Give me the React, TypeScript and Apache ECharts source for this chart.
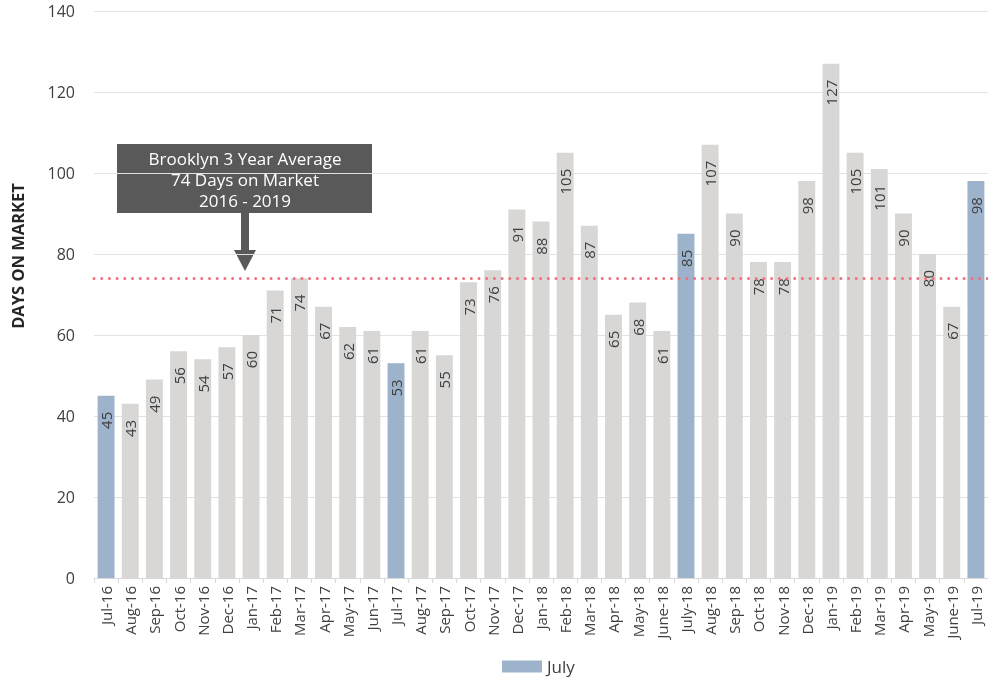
import React, { useEffect, useRef } from "react";
import * as echarts from "echarts";

const categories = [
  "Jul-16", "Aug-16", "Sep-16", "Oct-16", "Nov-16", "Dec-16", "Jan-17", "Feb-17", "Mar-17", "Apr-17",
  "May-17", "Jun-17", "Jul-17", "Aug-17", "Sep-17", "Oct-17", "Nov-17", "Dec-17", "Jan-18", "Feb-18",
  "Mar-18", "Apr-18", "May-18", "June-18", "July-18", "Aug-18", "Sep-18", "Oct-18", "Nov-18", "Dec-18",
  "Jan-19", "Feb-19", "Mar-19", "Apr-19", "May-19", "June-19", "Jul-19",
];
const daysOnMarket = [
  45, 43, 49, 56, 54, 57, 60, 71, 74, 67,
  62, 61, 53, 61, 55, 73, 76, 91, 88, 105,
  87, 65, 68, 61, 85, 107, 90, 78, 78, 98,
  127, 105, 101, 90, 80, 67, 98,
];
const averageDays = 74;
const annotationLines = ["Brooklyn 3 Year Average", "74 Days on Market", "2016 - 2019"];
const yTicks = { min: 0, max: 140, interval: 20 };

const FONT = "'Open Sans', Lato, sans-serif";
const BLUE = "#9cb3cb";
const GRAY = "#d8d7d6";
const TEXT = "#404040";

export default function App() {
  const ref = useRef<HTMLDivElement>(null);
  useEffect(() => {
    if (!ref.current) return;
    const chart = echarts.init(ref.current, null, { renderer: "svg" });
    const data = daysOnMarket.map((v, i) => ({
      value: v,
      itemStyle: { color: categories[i].startsWith("Jul") ? BLUE : GRAY },
    }));
    chart.setOption({
      animation: false,
      textStyle: { fontFamily: FONT },
      grid: { left: 94, right: -6, top: 11, bottom: 99, containLabel: false },
      legend: {
        data: ["July"],
        left: 497,
        top: 653,
        itemWidth: 40,
        itemHeight: 12,
        itemGap: 6,
        icon: "rect",
        textStyle: { fontSize: 17, color: TEXT, fontFamily: FONT },
      },
      xAxis: {
        type: "category",
        data: categories,
        axisLine: { lineStyle: { color: "#d9d9d9" } },
        axisTick: { show: true, length: 5, lineStyle: { color: "#d9d9d9" } },
        axisLabel: { rotate: 90, interval: 0, fontSize: 15, color: TEXT, margin: 8, fontFamily: FONT },
      },
      yAxis: {
        type: "value",
        min: yTicks.min,
        max: yTicks.max,
        interval: yTicks.interval,
        axisLine: { show: false },
        axisTick: { show: false },
        axisLabel: { fontSize: 16, color: TEXT, margin: 19, fontFamily: FONT },
        splitLine: { lineStyle: { color: "#e2e2e2" } },
      },
      series: [
        {
          name: "July",
          type: "bar",
          color: BLUE,
          data,
          barCategoryGap: "30%",
          label: {
            show: true,
            position: "insideTop",
            rotate: 90,
            align: "right",
            verticalAlign: "middle",
            distance: 16,
            fontSize: 15,
            color: TEXT,
            fontFamily: FONT,
          },
          markLine: {
            silent: true,
            symbol: "none",
            label: { show: false },
            lineStyle: { color: "#f0707c", width: 3, type: [0, 7.7], cap: "round" },
            data: [{ yAxis: averageDays }],
          },
        },
      ],
      graphic: [
        {
          type: "text",
          x: 17,
          y: 256,
          rotation: Math.PI / 2,
          style: {
            text: "DAYS ON MARKET",
            fontSize: 16.5,
            fontWeight: "bold",
            fill: "#262626",
            fontFamily: FONT,
            align: "center",
            verticalAlign: "middle",
          },
        },
        {
          type: "rect",
          shape: { x: 117, y: 144, width: 255, height: 69 },
          style: { fill: "#595959" },
        },
        {
          type: "rect",
          shape: { x: 241, y: 213, width: 8, height: 38 },
          style: { fill: "#595959" },
        },
        {
          type: "polygon",
          shape: { points: [[234, 250], [256, 250], [245, 271]] },
          style: { fill: "#595959" },
        },
        {
          type: "text",
          x: 245,
          y: 179,
          style: {
            text: annotationLines.join("\n"),
            fontSize: 17,
            lineHeight: 21,
            fill: "#ffffff",
            fontFamily: FONT,
            align: "center",
            verticalAlign: "middle",
          },
        },
      ],
    });
    return () => chart.dispose();
  }, []);
  return (
    <div
      ref={ref}
      style={{ position: "fixed", left: 0, top: 0, width: 988, height: 677 }}
    />
  );
}
